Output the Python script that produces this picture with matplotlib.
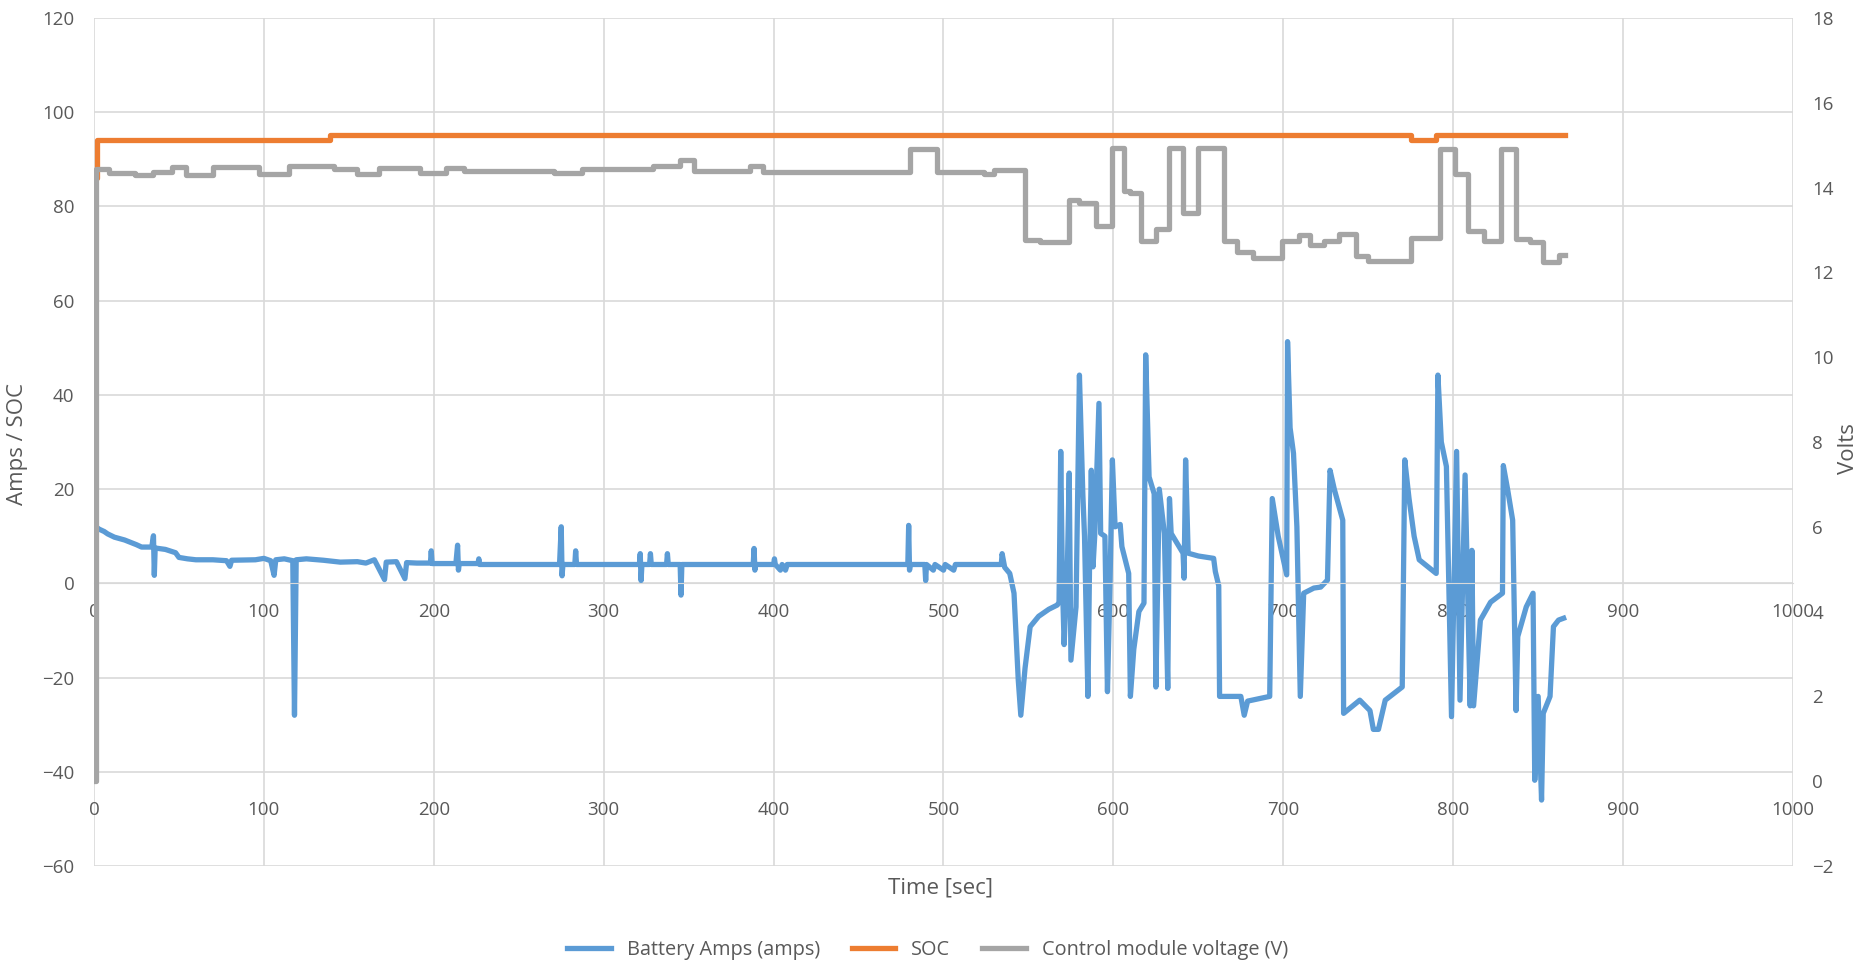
import matplotlib
matplotlib.use('Agg')
import matplotlib.pyplot as plt

# Battery current (amps)
amps_t = [0, 3, 6, 8, 12, 18, 25, 28, 34, 35, 35.5, 36, 42, 48, 50, 55, 60, 70, 78, 80, 81,
          95, 100, 104, 106, 107, 112, 117, 118, 119, 125, 135, 145, 155, 160, 165, 171, 172,
          178, 183, 184, 190, 198, 198.5, 199, 213, 214, 214.5, 215, 226, 226.5, 227, 274,
          275, 275.5, 276, 283, 283.5, 284, 321, 321.5, 322, 322.5, 327, 327.5, 328, 337,
          337.5, 338, 345, 345.5, 346, 388, 388.5, 389, 389.5, 400, 400.5, 401, 404, 405,
          407, 408, 479, 479.5, 480, 480.5, 489, 489.5, 490, 494, 495, 500, 501, 506, 507,
          534, 534.5, 536, 539, 541.5, 544, 545.5, 548, 551, 556, 562, 567, 568, 569, 570,
          571, 573, 574, 575, 578, 580, 582, 583, 585, 586, 587, 588, 589, 591.5, 592.5, 595,
          596.5, 598, 599.4, 601, 604, 605, 609, 610, 612, 615, 618, 619, 621, 624, 625, 627,
          630, 632, 633, 634, 641, 641.6, 642.5, 644, 650, 659, 660, 662, 662.5, 675, 677,
          679, 692, 693.5, 697, 702, 702.5, 704, 706, 708, 710, 712, 718, 722, 726, 727.5,
          730, 735, 735.5, 745, 751, 753, 756, 760, 770, 771.5, 774, 777, 780, 790, 791, 793,
          796, 799, 802, 804, 807, 810, 811, 812, 816, 822, 829, 829.5, 832, 835, 837, 838,
          843, 847, 848, 850, 852, 853, 857, 859, 862, 865]
amps_v = [12.3, 11.5, 11.0, 10.5, 9.8, 9.2, 8.2, 7.7, 7.7, 10.1, 1.7, 7.5, 7.2, 6.5, 5.5, 5.2,
          5.0, 5.0, 4.8, 3.6, 4.9, 5.0, 5.3, 4.8, 1.7, 5.0, 5.2, 4.8, -28, 5.0, 5.2, 4.9, 4.5,
          4.6, 4.3, 5.0, 0.8, 4.5, 4.6, 1.0, 4.4, 4.3, 4.3, 6.9, 4.2, 4.2, 8.1, 2.8, 4.2, 4.2,
          5.2, 4.0, 4.0, 12.0, 1.6, 4.0, 4.0, 6.9, 4.0, 4.0, 6.3, 0.6, 4.0, 4.0, 6.3, 4.0, 4.0,
          6.3, 4.0, 4.0, -2.5, 4.0, 4.0, 7.4, 2.8, 4.0, 4.0, 5.2, 4.0, 2.8, 4.0, 2.8, 4.0, 4.0,
          12.3, 2.8, 4.0, 4.0, 0.6, 4.0, 2.8, 4.0, 2.8, 4.0, 2.8, 4.0, 4.0, 6.3, 3.4, 2.1,
          -2.1, -20.5, -28, -18, -9.2, -7.0, -5.5, -4.6, -4.0, 28, 0, -13, 5, 23.4, -16.3, -5,
          44.2, 19, 10, -24, 5, 24, 3.5, 10, 38.2, 10.6, 10.0, -23, 0, 26.2, 12, 12.5, 7.8,
          2.1, -24, -14, -6.0, -4.2, 48.5, 22.6, 19, -22, 20, 10.6, -22.3, 18, 10.6, 6.4, 1.1,
          26.2, 6.4, 5.8, 5.3, 2.5, -0.5, -24, -24, -28, -25, -24, 18, 10, 1.8, 51.3, 33,
          27.6, 12, -24, -2.1, -1.0, -0.8, 0.7, 24, 20, 13.4, -27.6, -24.8, -27, -31, -31,
          -24.8, -22, 26.2, 18, 10, 5.0, 2.1, 44.2, 30, 24.8, -28.3, 28, -24.8, 23, -26, 7,
          -26, -7.8, -4.0, -2.1, 25, 20, 13.4, -27, -11.3, -5, -2.1, -41.8, -24, -46, -27.6,
          -24, -9.2, -7.8, -7.4]

# State of charge, step values
soc_t = [0, 1.5, 139, 775, 790, 866]
soc_v = [86, 94.2, 95.2, 94.0, 95.2, 95.2]

# Control module voltage, step values (volts, right axis)
volt_t = [0, 1, 9, 24, 35, 46, 54, 70, 97, 115, 141, 155, 168, 192, 207, 218, 271, 287,
          329, 345, 353, 386, 394, 480, 496, 524, 530, 548, 557, 574, 580, 590, 599, 606,
          610, 616, 625, 633, 641, 650, 665, 673, 682, 699, 709, 716, 724, 733, 743, 750,
          775, 792, 801, 809, 818, 828, 837, 845, 853, 862, 866]
volt_v = [0, 14.43, 14.34, 14.30, 14.37, 14.48, 14.29, 14.48, 14.31, 14.51, 14.43, 14.31,
          14.46, 14.34, 14.47, 14.39, 14.34, 14.43, 14.52, 14.65, 14.38, 14.52, 14.36,
          14.91, 14.36, 14.33, 14.41, 12.77, 12.72, 13.71, 13.63, 13.10, 14.94, 13.92,
          13.88, 12.74, 13.02, 14.94, 13.40, 14.94, 12.74, 12.49, 12.35, 12.74, 12.88,
          12.64, 12.74, 12.90, 12.39, 12.27, 12.80, 14.92, 14.31, 12.97, 12.74, 14.91,
          12.79, 12.71, 12.24, 12.41, 12.41]

labels = ['Battery Amps (amps)', 'SOC', 'Control module voltage (V)']
colors = ['#5B9BD5', '#ED7D31', '#A5A5A5']
txt = '#595959'
grid = '#D9D9D9'

plt.rcParams['font.family'] = ['Open Sans', 'DejaVu Sans']

fig = plt.figure(figsize=(18.74, 9.65), dpi=100)
ax = fig.add_axes([94 / 1874, 1 - 866 / 965, (1793 - 94) / 1874, (866 - 18) / 965])
ax2 = ax.twinx()

l1, = ax.plot(amps_t, amps_v, color=colors[0], lw=3.8, solid_joinstyle='round')
l2, = ax.plot(soc_t, soc_v, color=colors[1], lw=3.8, drawstyle='steps-post')
l3, = ax2.plot(volt_t, volt_v, color=colors[2], lw=3.8, drawstyle='steps-post')

ax.set_xlim(0, 1000)
ax.set_ylim(-60, 120)
ax.set_yticks(range(-60, 121, 20))
ax.set_xticks(range(0, 1001, 100))
ax2.set_ylim(-2, 18)
ax2.set_yticks(range(-2, 19, 2))

ax.grid(True, color=grid, lw=1.2)
ax.set_axisbelow(True)

for a in (ax, ax2):
    for s in ('top', 'left', 'right'):
        a.spines[s].set_visible(False)
    a.spines['bottom'].set_position(('data', 0))
    a.tick_params(length=0, labelsize=13.5, labelcolor=txt, pad=14)
ax.spines['bottom'].set_color(grid)
ax2.spines['bottom'].set_color('none')
ax2.xaxis.set_visible(True)

fig.text(18 / 1874, 0.54, 'Amps / SOC', rotation=90, ha='center', va='center',
         fontsize=16, color=txt)
fig.text(1849 / 1874, 0.535, 'Volts', rotation=90, ha='center', va='center',
         fontsize=16, color=txt)
fig.text(0.502, 1 - 888 / 965, 'Time [sec]', ha='center', va='center',
         fontsize=16, color=txt)

leg = fig.legend([l1, l2, l3], labels, loc='center', bbox_to_anchor=(0.495, 1 - 950 / 965),
                 ncol=3, frameon=False, fontsize=14.3, handlelength=2.2,
                 columnspacing=1.6, labelcolor=txt)

fig.savefig('out.png', dpi=100)
